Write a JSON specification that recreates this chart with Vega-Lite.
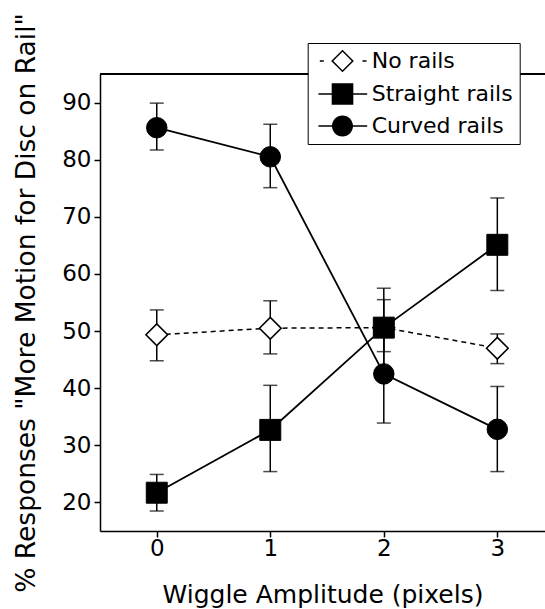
{
  "$schema": "https://vega.github.io/schema/vega-lite/v6.json",
  "width": 445,
  "height": 457,
  "autosize": {"type": "none"},
  "padding": {"left": 100, "top": 74, "right": 0, "bottom": 78},
  "background": "white",
  "config": {
    "view": {"stroke": null},
    "font": "DejaVu Sans",
    "axis": {
      "domainColor": "black",
      "domainWidth": 1.5,
      "tickColor": "black",
      "tickWidth": 1.5,
      "tickSize": 6,
      "labelColor": "black",
      "labelFont": "DejaVu Sans",
      "labelFontSize": 23,
      "titleFont": "DejaVu Sans",
      "titleFontWeight": "normal",
      "titleColor": "black",
      "grid": false
    },
    "axisX": {"labelPadding": 0, "titleFontSize": 25, "titlePadding": 22},
    "axisY": {"labelPadding": 3, "titleFontSize": 26.5, "titlePadding": 21}
  },
  "data": {
    "values": [
      {"series": "No rails", "x": 0, "y": 49.35, "lo": 44.8, "hi": 53.7},
      {"series": "No rails", "x": 1, "y": 50.5, "lo": 46.0, "hi": 55.3},
      {"series": "No rails", "x": 2, "y": 50.6, "lo": 46.4, "hi": 55.5},
      {"series": "No rails", "x": 3, "y": 47.0, "lo": 44.3, "hi": 49.5},
      {"series": "Straight rails", "x": 0, "y": 21.7, "lo": 18.5, "hi": 24.9},
      {"series": "Straight rails", "x": 1, "y": 32.7, "lo": 25.4, "hi": 40.5},
      {"series": "Straight rails", "x": 2, "y": 50.6, "lo": 43.7, "hi": 57.5},
      {"series": "Straight rails", "x": 3, "y": 65.1, "lo": 57.1, "hi": 73.3},
      {"series": "Curved rails", "x": 0, "y": 85.6, "lo": 81.7, "hi": 89.9},
      {"series": "Curved rails", "x": 1, "y": 80.5, "lo": 75.1, "hi": 86.2},
      {"series": "Curved rails", "x": 2, "y": 42.5, "lo": 33.9, "hi": 51.1},
      {"series": "Curved rails", "x": 3, "y": 32.8, "lo": 25.4, "hi": 40.3}
    ]
  },
  "encoding": {
    "x": {"field": "x", "type": "quantitative", "scale": {"domain": [-0.5, 3.42], "nice": false, "zero": false},
          "axis": {"values": [0, 1, 2, 3], "format": "d", "title": "Wiggle Amplitude (pixels)",
                   "encoding": {"ticks": {"update": {"y2": {"value": -6}}}}}},
    "y": {"field": "y", "type": "quantitative", "scale": {"domain": [15, 95], "nice": false, "zero": false},
          "axis": {"values": [20, 30, 40, 50, 60, 70, 80, 90], "title": "% Responses \"More Motion for Disc on Rail\"",
                   "encoding": {"ticks": {"update": {"x2": {"value": 6}}}}}}
  },
  "layer": [
    {
      "transform": [{"filter": "datum.series !== 'No rails'"}],
      "mark": {"type": "line", "color": "black", "strokeWidth": 1.8},
      "encoding": {"detail": {"field": "series"}}
    },
    {
      "transform": [{"filter": "datum.series === 'No rails'"}],
      "mark": {"type": "line", "color": "black", "strokeWidth": 1.5, "strokeDash": [5, 4]},
      "encoding": {}
    },
    {
      "mark": {"type": "rule", "color": "black", "strokeWidth": 1.5},
      "encoding": {
        "x": {"datum": -0.5, "type": "quantitative"},
        "x2": {"datum": 3.42},
        "y": {"datum": 95, "type": "quantitative"}
      }
    },
    {
      "mark": {"type": "rule", "color": "black", "strokeWidth": 1.5},
      "encoding": {
        "y": {"field": "lo", "type": "quantitative"},
        "y2": {"field": "hi"}
      }
    },
    {
      "mark": {"type": "tick", "color": "black", "orient": "horizontal", "size": 14, "thickness": 1.5},
      "encoding": {"y": {"field": "lo", "type": "quantitative"}}
    },
    {
      "mark": {"type": "tick", "color": "black", "orient": "horizontal", "size": 14, "thickness": 1.5},
      "encoding": {"y": {"field": "hi", "type": "quantitative"}}
    },
    {
      "transform": [{"filter": "datum.series === 'No rails'"}],
      "mark": {"type": "point", "shape": "diamond", "size": 470, "filled": true, "fill": "white", "stroke": "black", "strokeWidth": 1.6, "opacity": 1},
      "encoding": {}
    },
    {
      "transform": [{"filter": "datum.series === 'Straight rails'"}],
      "mark": {"type": "point", "shape": "square", "size": 440, "filled": true, "fill": "black", "stroke": "black", "strokeWidth": 1, "opacity": 1},
      "encoding": {}
    },
    {
      "transform": [{"filter": "datum.series === 'Curved rails'"}],
      "mark": {"type": "point", "shape": "circle", "size": 420, "filled": true, "fill": "black", "stroke": "black", "strokeWidth": 1, "opacity": 1},
      "encoding": {}
    },
    {
      "mark": {"type": "point", "filled": true, "fill": "black", "opacity": 0},
      "encoding": {
        "shape": {"field": "series", "type": "nominal",
                  "scale": {"domain": ["No rails", "Straight rails", "Curved rails"],
                            "range": ["M-0.56,-0.07H-0.18V0.07H-0.56ZM3.5,-0.07H3.89V0.07H3.5ZM0.52,0L1.6,-1.08L2.68,0L1.6,1.08ZM0.72,0L1.6,0.88L2.48,0L1.6,-0.88Z",
                                      "M-0.69,-0.08H0.6V0.08H-0.69ZM0.57,-1.03H2.63V1.03H0.57ZM2.6,-0.08H3.95V0.08H2.6Z",
                                      "M-0.69,-0.08H0.7V0.08H-0.69ZM0.6,0A1,1 0 1,1 2.6,0A1,1 0 1,1 0.6,0ZM2.5,-0.08H3.95V0.08H2.5Z"]},
                  "legend": {"title": null, "orient": "none", "legendX": 207.7, "legendY": -31,
                            "symbolSize": 441, "symbolOpacity": 1, "symbolFillColor": "black", "symbolStrokeWidth": 0,
                            "labelFont": "DejaVu Sans", "labelFontSize": 22, "labelColor": "black", "labelOffset": 35, "labelLimit": 300,
                            "rowPadding": 10, "padding": 7, "fillColor": "white", "strokeColor": "black", "cornerRadius": 0}}
      }
    }
  ]
}
